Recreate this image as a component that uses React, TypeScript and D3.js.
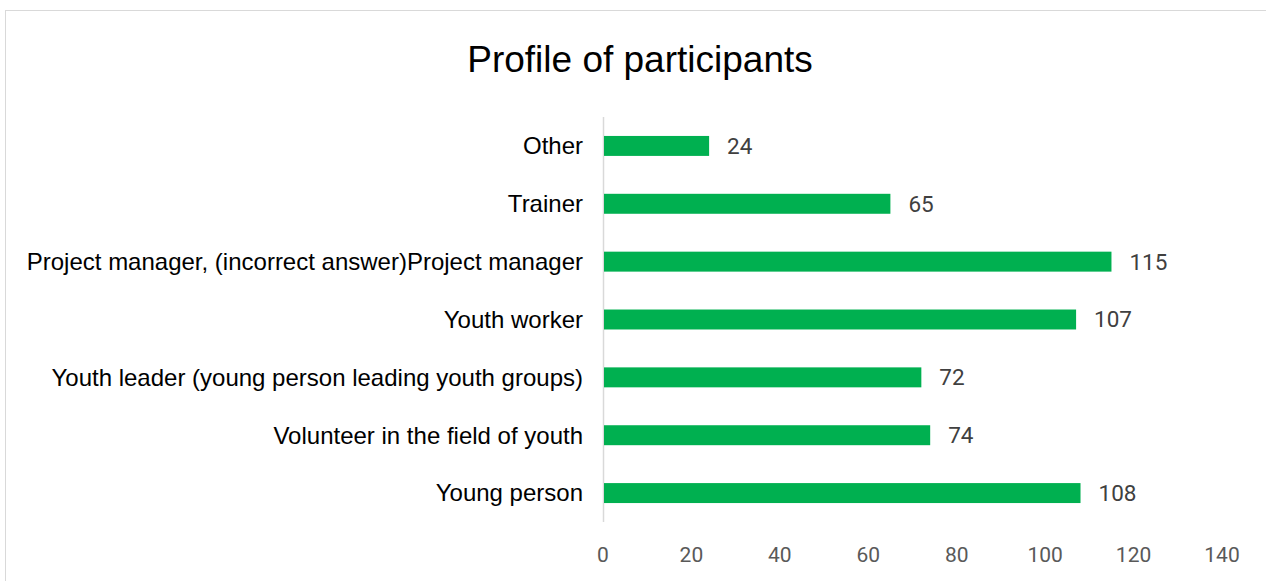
import React, { useEffect, useRef } from "react";
import * as d3 from "d3";

const categories = [
  "Other",
  "Trainer",
  "Project manager, (incorrect answer)Project manager",
  "Youth worker",
  "Youth leader (young person leading youth groups)",
  "Volunteer in the field of youth",
  "Young person",
];
const counts = [24, 65, 115, 107, 72, 74, 108];
const xTicks = [0, 20, 40, 60, 80, 100, 120, 140];

const App = () => {
  const chartRef = useRef<SVGSVGElement | null>(null);

  useEffect(() => {
    const width = 1266;
    const height = 581;
    const margin = { top: 117, left: 603, right: 44, bottom: 59 };

    const svg = d3.select(chartRef.current);
    svg.selectAll("*").remove();

    // outer frame (only top/left visible in the crop)
    svg
      .append("rect")
      .attr("x", 5.5)
      .attr("y", 10.5)
      .attr("width", width + 20)
      .attr("height", height + 20)
      .attr("fill", "white")
      .attr("stroke", "#d9d9d9")
      .attr("stroke-width", 1);

    svg
      .append("text")
      .attr("x", 640)
      .attr("y", 72)
      .attr("text-anchor", "middle")
      .attr("font-family", "Liberation Sans, Arial, sans-serif")
      .attr("font-size", 37)
      .attr("fill", "#000")
      .text("Profile of participants");

    const x = d3
      .scaleLinear()
      .domain([0, 140])
      .range([margin.left, width - margin.right]);

    const y = d3
      .scaleBand()
      .domain(categories)
      .range([margin.top, height - margin.bottom])
      .paddingInner(0.655)
      .paddingOuter(0.3275);

    // vertical axis line
    svg
      .append("line")
      .attr("x1", x(0) + 0.5)
      .attr("x2", x(0) + 0.5)
      .attr("y1", margin.top)
      .attr("y2", height - margin.bottom)
      .attr("stroke", "#d9d9d9")
      .attr("stroke-width", 1.5);

    // bars
    svg
      .selectAll(".bar")
      .data(categories)
      .enter()
      .append("rect")
      .attr("class", "bar")
      .attr("x", x(0) + 1)
      .attr("y", (d) => y(d)!)
      .attr("width", (d, i) => x(counts[i]) - x(0) - 1)
      .attr("height", y.bandwidth())
      .attr("fill", "#00b050");

    // category labels
    svg
      .selectAll(".cat")
      .data(categories)
      .enter()
      .append("text")
      .attr("class", "cat")
      .attr("x", x(0) - 20)
      .attr("y", (d) => y(d)! + y.bandwidth() / 2)
      .attr("dy", "0.35em")
      .attr("text-anchor", "end")
      .attr("font-family", "Liberation Sans, Arial, sans-serif")
      .attr("font-size", 24)
      .attr("fill", "#000")
      .text((d) => d);

    // value labels
    svg
      .selectAll(".val")
      .data(categories)
      .enter()
      .append("text")
      .attr("class", "val")
      .attr("x", (d, i) => x(counts[i]) + 18)
      .attr("y", (d) => y(d)! + y.bandwidth() / 2)
      .attr("dy", "0.35em")
      .attr("font-family", "Roboto, sans-serif")
      .attr("font-size", 22.5)
      .attr("fill", "#404040")
      .text((d, i) => counts[i]);

    // x tick labels
    svg
      .selectAll(".tick-label")
      .data(xTicks)
      .enter()
      .append("text")
      .attr("class", "tick-label")
      .attr("x", (d) => x(d))
      .attr("y", 555)
      .attr("dy", "0.35em")
      .attr("text-anchor", "middle")
      .attr("font-family", "Roboto, sans-serif")
      .attr("font-size", 21)
      .attr("fill", "#595959")
      .text((d) => d);
  }, []);

  return (
    <svg
      ref={chartRef}
      width={1266}
      height={581}
      style={{ position: "absolute", left: 0, top: 0 }}
    />
  );
};

export default App;
